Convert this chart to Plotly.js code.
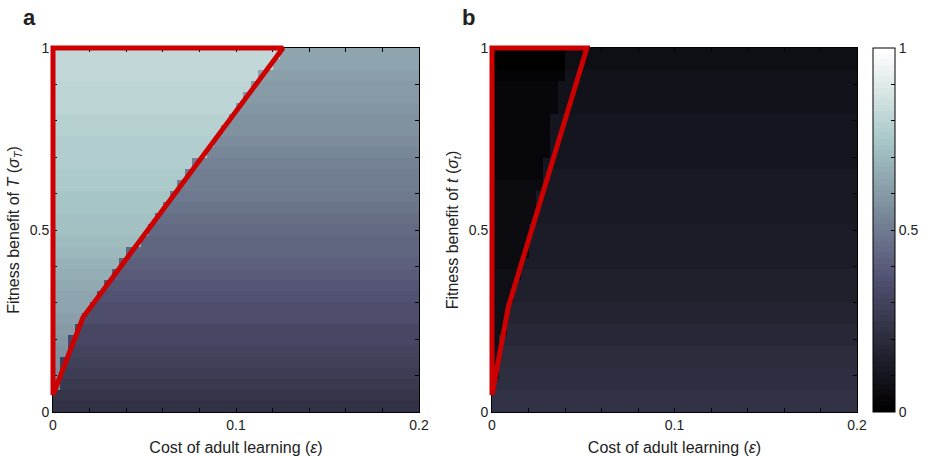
<!DOCTYPE html>
<html><head><meta charset="utf-8">
<script src="https://cdn.plot.ly/plotly-3.0.1.min.js"></script>
<style>html,body{margin:0;padding:0;background:#fff}</style>
</head><body><div id="chart" style="width:931px;height:457px"></div>
<script>
// Grid: 33 rows (bottom k=0 to top k=32) spanning y 0..1, 50 columns of width 0.004 spanning x 0..0.2
const aOutside = [0.222,0.237,0.252,0.268,0.283,0.298,0.313,0.328,0.344,0.357,0.371,0.384,0.397,0.411,0.424,0.437,0.450,0.463,0.476,0.489,0.501,0.514,0.527,0.539,0.552,0.563,0.574,0.585,0.596,0.607,0.618,0.629,0.640];
const aInside  = [0.530,0.535,0.541,0.552,0.565,0.577,0.589,0.601,0.613,0.625,0.639,0.653,0.668,0.682,0.697,0.711,0.724,0.732,0.739,0.746,0.753,0.760,0.767,0.774,0.781,0.787,0.793,0.799,0.804,0.810,0.815,0.820,0.825];
const aInsideCols = [0,0,1,1,1,2,2,3,4,5,6,7,8,9,10,12,13,14,15,16,17,18,19,21,22,23,24,25,26,27,28,30,31];

const bOutside = [0.232,0.222,0.213,0.204,0.196,0.188,0.181,0.174,0.167,0.161,0.155,0.150,0.145,0.140,0.136,0.132,0.128,0.124,0.121,0.118,0.115,0.112,0.109,0.106,0.103,0.100,0.096,0.092,0.088,0.084,0.080,0.075,0.070];
const bInside  = [0.200,0.190,0.090,0.088,0.085,0.080,0.078,0.075,0.072,0.070,0.068,0.066,0.064,0.062,0.060,0.058,0.056,0.054,0.052,0.050,0.048,0.046,0.044,0.042,0.041,0.040,0.038,0.036,0.035,0.034,0.030,0.004,0.004];
const bInsideCols = [0,0,0,1,1,1,1,2,2,2,3,3,4,4,5,5,5,6,6,6,7,7,7,8,8,8,8,9,9,9,10,10,10];

// red boundary polygons (data coordinates)
const polyAX = [0, 0.1257, 0.0164, 0, 0, 0.1257];
const polyAY = [1, 1, 0.26, 0.047, 1, 1];
const polyBX = [0, 0.052, 0.009, 0, 0, 0.052];
const polyBY = [1, 1, 0.29, 0.047, 1, 1];

const xTickVals = [0,0.02,0.04,0.06,0.08,0.1,0.12,0.14,0.16,0.18,0.2];
const xTickText = ['0','','','','','0.1','','','','','0.2'];
const yTickVals = [0,0.1,0.2,0.3,0.4,0.5,0.6,0.7,0.8,0.9,1];
const yTickText = ['0','','','','','0.5','','','','','1'];

const NCOLS = 50;
function buildZ(outside, inside, cols){
  const z = [];
  for (let k = 0; k < outside.length; k++){
    const row = [];
    for (let j = 0; j < NCOLS; j++) row.push(j < cols[k] ? inside[k] : outside[k]);
    z.push(row);
  }
  return z;
}

// MATLAB "bone" colormap, 64 discrete levels
function boneRGB(i){
  const v = i/63;
  const hR = Math.min(1,(i+1)/24);
  const hG = i < 24 ? 0 : Math.min(1,(i-23)/24);
  const hB = i < 48 ? 0 : (i-47)/16;
  const c = [(7*v+hB)/8,(7*v+hG)/8,(7*v+hR)/8].map(t=>Math.round(t*255));
  return 'rgb('+c.join(',')+')';
}
const bone = [];
for (let i = 0; i < 64; i++){ const c = boneRGB(i); bone.push([i/64, c]); bone.push([(i+1)/64, c]); }

const W = 931, H = 457;
const aL = 53, aR = 419, bL = 492, bR = 857, pT = 48, pB = 412, pad = 8;
const RED = 'rgb(204,0,0)';
const FONT = 'Liberation Sans, Arial, sans-serif';
const TXT = '#222';

const hmCommon = {type:'heatmap', x0:0.002, dx:0.004, y0:1/66, dy:1/33, zmin:0, zmax:1,
  colorscale: bone, zsmooth:false, hoverinfo:'skip'};

const traces = [
  Object.assign({}, hmCommon, {z: buildZ(aOutside, aInside, aInsideCols), xaxis:'x', yaxis:'y', showscale:false}),
  Object.assign({}, hmCommon, {z: buildZ(bOutside, bInside, bInsideCols), xaxis:'x2', yaxis:'y2', showscale:true,
    colorbar:{x: 873/W, xanchor:'left', xpad:0, ypad:0, y:(H-pB)/H, yanchor:'bottom', len:(pB-pT)/H, lenmode:'fraction',
      thickness:22, thicknessmode:'pixels', outlinewidth:1, outlinecolor:'#000',
      ticks:'inside', ticklen:4, tickwidth:1, tickcolor:'#000', tickvals:yTickVals, ticktext:yTickText,
      tickfont:{family:FONT, size:14, color:TXT}}}),
  {type:'scatter', mode:'lines', x:polyAX, y:polyAY, xaxis:'x3', yaxis:'y3', line:{color:RED, width:5, simplify:false}, hoverinfo:'skip', showlegend:false},
  {type:'scatter', mode:'lines', x:polyBX, y:polyBY, xaxis:'x4', yaxis:'y4', line:{color:RED, width:5, simplify:false}, hoverinfo:'skip', showlegend:false}
];

function mainX(L, R, anchor){
  return {domain:[L/W, R/W], range:[0,0.2], anchor:anchor, showline:true, linecolor:'#000', linewidth:1, mirror:'ticks',
    ticks:'inside', ticklen:4, tickcolor:'#000', tickvals:xTickVals, ticktext:xTickText, showgrid:false, zeroline:false,
    tickfont:{family:FONT, size:14, color:TXT}, fixedrange:true,
    title:{text:'Cost of adult learning (<i>ε</i>)', font:{family:FONT, size:16, color:TXT}, standoff:10}};
}
function mainY(anchor, letter){
  return {domain:[(H-pB)/H, (H-pT)/H], range:[0,1], anchor:anchor, showline:true, linecolor:'#000', linewidth:1, mirror:'ticks',
    ticks:'inside', ticklen:4, tickcolor:'#000', tickvals:yTickVals, ticktext:yTickText, showgrid:false, zeroline:false,
    tickfont:{family:FONT, size:14, color:TXT}, fixedrange:true,
    title:{text:'Fitness benefit of <i>'+letter+'</i> (<i>σ</i><sub><i>'+letter+'</i></sub>)', font:{family:FONT, size:16, color:TXT}, standoff:6}};
}
function overX(L, R, anchor){
  const s = 0.2/(R-L);
  return {domain:[(L-pad)/W, (R+pad)/W], range:[-pad*s, 0.2+pad*s], anchor:anchor, visible:false, fixedrange:true};
}
function overY(anchor){
  const s = 1/(pB-pT);
  return {domain:[(H-pB-pad)/H, (H-pT+pad)/H], range:[-pad*s, 1+pad*s], anchor:anchor, visible:false, fixedrange:true};
}

const layout = {
  width:W, height:H, margin:{l:0,r:0,t:0,b:0}, paper_bgcolor:'#fff', plot_bgcolor:'rgba(0,0,0,0)',
  showlegend:false, hovermode:false,
  xaxis: mainX(aL, aR, 'y'), yaxis: mainY('x','T'),
  xaxis2: mainX(bL, bR, 'y2'), yaxis2: mainY('x2','t'),
  xaxis3: overX(aL, aR, 'y3'), yaxis3: overY('x3'),
  xaxis4: overX(bL, bR, 'y4'), yaxis4: overY('x4'),
  annotations:[
    {text:'<b>a</b>', xref:'paper', yref:'paper', x:21/W, y:1-18/H, xanchor:'left', yanchor:'middle', showarrow:false, font:{family:FONT, size:22, color:TXT}},
    {text:'<b>b</b>', xref:'paper', yref:'paper', x:460/W, y:1-18/H, xanchor:'left', yanchor:'middle', showarrow:false, font:{family:FONT, size:22, color:TXT}}
  ]
};

Plotly.newPlot('chart', traces, layout, {staticPlot:true, displayModeBar:false});
</script></body></html>
